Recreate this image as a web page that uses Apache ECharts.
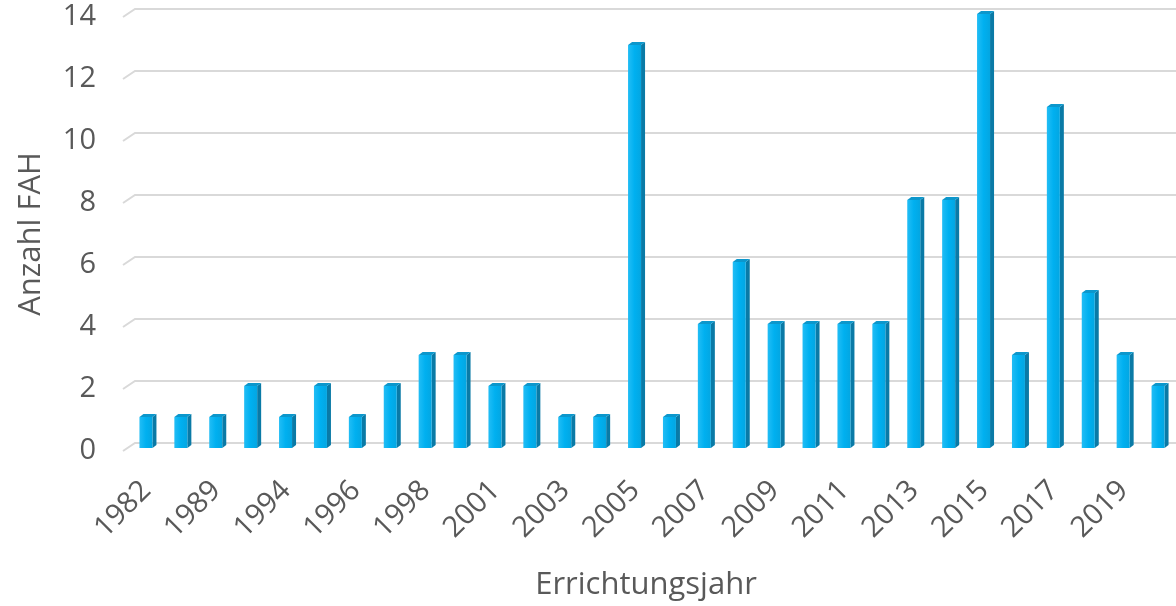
<!DOCTYPE html>
<html>
<head>
<meta charset="utf-8">
<script src="https://cdn.jsdelivr.net/npm/echarts@6/dist/echarts.min.js"></script>
<style>
  html, body { margin: 0; padding: 0; background: #ffffff; }
  #chart { width: 1176px; height: 606px; }
</style>
</head>
<body>
<div id="chart"></div>
<script>
// Commissioning year of each plant group (only every second one is labelled)
const years = ['1982', '1985', '1989', '1992', '1994', '1995', '1996', '1997', '1998', '2000',
               '2001', '2002', '2003', '2004', '2005', '2006', '2007', '2008', '2009', '2010',
               '2011', '2012', '2013', '2014', '2015', '2016', '2017', '2018', '2019', '2020'];
// Number of plants (Anzahl FAH) per year
const counts = [1, 1, 1, 2, 1, 2, 1, 2, 3, 3,
                2, 2, 1, 1, 13, 1, 4, 6, 4, 4,
                4, 4, 8, 8, 14, 3, 11, 5, 3, 2];
// Value-axis ticks
const yTicks = [0, 2, 4, 6, 8, 10, 12, 14];

const TEXT = '#595959';
const FONT = 'Open Sans';
// Perspective depth of the floor / back wall
const DEPTH_X = 12, DEPTH_Y = 8;

const chart = echarts.init(document.getElementById('chart'), null, { renderer: 'canvas' });

chart.setOption({
  animation: false,
  backgroundColor: '#ffffff',
  textStyle: { fontFamily: FONT },
  grid: [
    // front plane: value labels and wall grid lines
    { left: 123, top: 17, width: 1050, height: 434 },
    // mid-depth plane: columns and category labels
    { left: 129, top: 14, width: 1050, height: 434 }
  ],
  xAxis: [
    { type: 'category', gridIndex: 0, data: years, show: false },
    {
      type: 'category', gridIndex: 1, data: years,
      axisLine: { show: false }, axisTick: { show: false },
      axisLabel: {
        interval: 1, rotate: 45, margin: 38,
        fontSize: 29, color: TEXT, fontFamily: FONT
      },
      name: 'Errichtungsjahr', nameLocation: 'middle', nameGap: 122,
      nameTextStyle: { fontSize: 31, color: TEXT, fontFamily: FONT, padding: [0, 13, 0, 0] }
    }
  ],
  yAxis: [
    {
      type: 'value', gridIndex: 0, min: 0, max: 14, interval: 2,
      axisLine: { show: false }, axisTick: { show: false }, splitLine: { show: false },
      axisLabel: { margin: 27, fontSize: 29, color: TEXT, fontFamily: FONT },
      name: 'Anzahl FAH', nameLocation: 'middle', nameGap: 76,
      nameTextStyle: { fontSize: 31, color: TEXT, fontFamily: FONT }
    },
    { type: 'value', gridIndex: 1, min: 0, max: 14, interval: 2, show: false }
  ],
  series: [
    {
      // floor edge + back wall grid lines
      type: 'custom',
      xAxisIndex: 0, yAxisIndex: 0,
      silent: true, z: 1,
      data: yTicks.map(t => [0, t]),
      renderItem(params, api) {
        const cs = params.coordSys;
        const p = api.coord([0, api.value(1)]);
        const x0 = cs.x, y0 = p[1];
        return {
          type: 'polyline',
          shape: {
            points: [
              [x0, y0],
              [x0 + DEPTH_X, y0 - DEPTH_Y],
              [x0 + cs.width + DEPTH_X, y0 - DEPTH_Y]
            ]
          },
          style: { stroke: '#d9d9d9', lineWidth: 2, fill: null }
        };
      }
    },
    {
      // 3-D columns: front face, side face and top face
      type: 'custom',
      xAxisIndex: 1, yAxisIndex: 1, z: 3,
      data: counts.map((v, i) => [i, v]),
      renderItem(params, api) {
        const i = api.value(0), v = api.value(1);
        const top = api.coord([i, v]);
        const base = api.coord([i, 0]);
        const x0 = top[0] - 7, x1 = top[0] + 6;
        const yt = top[1], yb = base[1];
        const dx = 4, dy = 3;
        return {
          type: 'group',
          children: [
            {
              type: 'polygon',
              shape: { points: [[x1, yt], [x1 + dx, yt - dy], [x1 + dx, yb - dy], [x1, yb]] },
              style: { fill: '#0a7aa6' }
            },
            {
              type: 'rect',
              shape: { x: x0, y: yt, width: x1 - x0, height: yb - yt },
              style: {
                fill: new echarts.graphic.LinearGradient(0, 0, 1, 0, [
                  { offset: 0, color: '#22bdf5' },
                  { offset: 0.5, color: '#00b0f0' },
                  { offset: 1, color: '#03a6e2' }
                ])
              }
            },
            {
              type: 'polygon',
              shape: { points: [[x0, yt], [x0 + dx, yt - dy], [x1 + dx, yt - dy], [x1, yt]] },
              style: { fill: '#0c97cc' }
            }
          ]
        };
      }
    }
  ]
});
</script>
</body>
</html>
